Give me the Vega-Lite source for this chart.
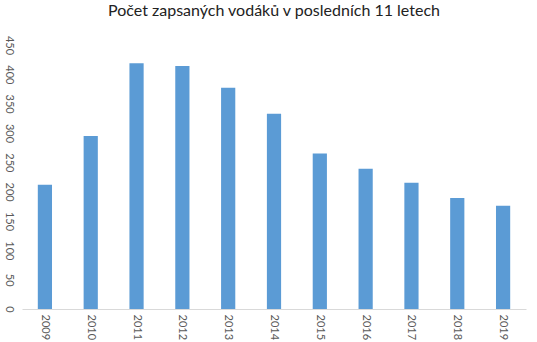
{
  "$schema": "https://vega.github.io/schema/vega-lite/v6.json",
  "autosize": {"type": "none"},
  "width": 504,
  "height": 264,
  "padding": {"left": 22, "top": 45, "right": 11, "bottom": 33},
  "background": "white",
  "title": {
    "text": "Počet zapsaných vodáků v posledních 11 letech",
    "font": "Lato",
    "fontSize": 16,
    "fontWeight": "normal",
    "color": "#222222",
    "anchor": "middle",
    "frame": "group",
    "offset": 16
  },
  "data": {
    "values": [
      {"rok": "2009", "pocet": 212},
      {"rok": "2010", "pocet": 295},
      {"rok": "2011", "pocet": 419},
      {"rok": "2012", "pocet": 414},
      {"rok": "2013", "pocet": 377},
      {"rok": "2014", "pocet": 333},
      {"rok": "2015", "pocet": 265},
      {"rok": "2016", "pocet": 239},
      {"rok": "2017", "pocet": 215},
      {"rok": "2018", "pocet": 189},
      {"rok": "2019", "pocet": 176}
    ]
  },
  "mark": {"type": "bar", "color": "#5b9bd5"},
  "encoding": {
    "x": {
      "field": "rok",
      "type": "ordinal",
      "scale": {"paddingInner": 0.69, "paddingOuter": 0.345},
      "axis": {
        "title": null,
        "labelAngle": 90,
        "labelAlign": "left",
        "labelBaseline": "middle",
        "labelPadding": 5,
        "labelFont": "Lato",
        "labelFontSize": 11,
        "labelColor": "#595959",
        "ticks": false,
        "domainColor": "#d9d9d9",
        "grid": false
      }
    },
    "y": {
      "field": "pocet",
      "type": "quantitative",
      "scale": {"domain": [0, 450], "nice": false},
      "axis": {
        "title": null,
        "values": [0, 50, 100, 150, 200, 250, 300, 350, 400, 450],
        "labelAngle": 90,
        "labelAlign": "center",
        "labelBaseline": "top",
        "labelPadding": 8,
        "labelFont": "Lato",
        "labelFontSize": 11,
        "labelColor": "#595959",
        "ticks": false,
        "domain": false,
        "grid": false
      }
    }
  },
  "config": {"view": {"stroke": null}}
}
